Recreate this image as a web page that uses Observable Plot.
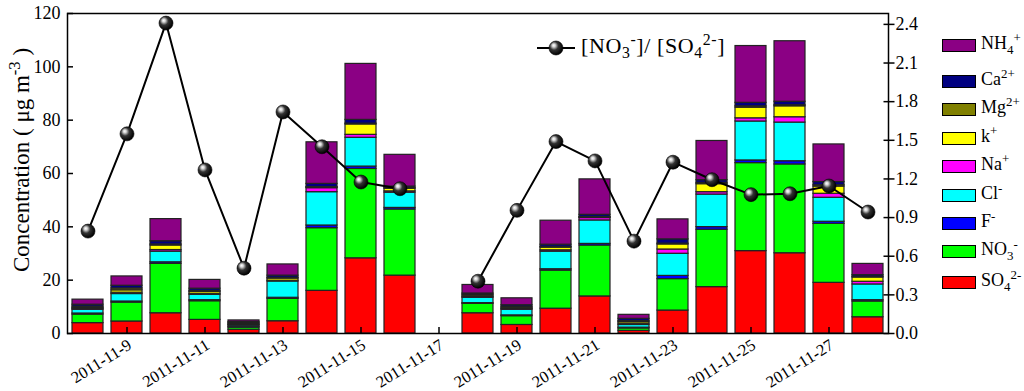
<!DOCTYPE html>
<html><head><meta charset="utf-8">
<script src="https://cdn.jsdelivr.net/npm/d3@7"></script>
<script src="https://cdn.jsdelivr.net/npm/@observablehq/plot@0.6"></script>
<style>
body{margin:0;background:#fff;}
#wrap{position:relative;width:1024px;height:391px;font-family:"Liberation Serif","Times New Roman",serif;color:#000;overflow:hidden;}
#wrap > svg{position:absolute;left:0;top:0;overflow:visible;}
.ylab{position:absolute;left:22px;top:160px;transform:translate(-50%,-50%) rotate(-90deg);white-space:nowrap;font-size:23px;}
.leg{position:absolute;left:942px;height:13px;white-space:nowrap;}
.leg .box{position:absolute;left:0;top:0;width:32px;height:11px;border:1.5px solid #000;}
.leg .lab{position:absolute;left:39px;top:-6px;font-size:18px;line-height:20px;}
sub,sup{font-size:72%;line-height:0;}
.rleg{position:absolute;left:535px;top:33px;white-space:nowrap;font-size:22px;letter-spacing:0.6px;}
.rleg svg{vertical-align:middle;margin-right:4px;}
</style></head><body><div id="wrap"></div>
<script>
const dates = ["2011-11-8","2011-11-9","2011-11-10","2011-11-11","2011-11-12","2011-11-13","2011-11-14","2011-11-15","2011-11-16","2011-11-17","2011-11-18","2011-11-19","2011-11-20","2011-11-21","2011-11-22","2011-11-23","2011-11-24","2011-11-25","2011-11-26","2011-11-27","2011-11-28"];
const xTickLabels = ["2011-11-9","2011-11-11","2011-11-13","2011-11-15","2011-11-17","2011-11-19","2011-11-21","2011-11-23","2011-11-25","2011-11-27"];
const components = ["SO4","NO3","F","Cl","Na","K","Mg","Ca","NH4"];
const colors = ["#ff0000","#00ff00","#0000ff","#00ffff","#ff00ff","#ffff00","#808000","#000080","#8b0084"];
const legendLabels = ["SO<sub>4</sub><sup>2-</sup>","NO<sub>3</sub><sup>-</sup>","F<sup>-</sup>","Cl<sup>-</sup>","Na<sup>+</sup>","k<sup>+</sup>","Mg<sup>2+</sup>","Ca<sup>2+</sup>","NH<sub>4</sub><sup>+</sup>"];
const SO4 = [3.9,4.5,7.6,5.1,1.4,4.6,16.0,28.2,21.7,null,7.6,3.2,9.3,13.9,1.0,8.6,17.4,30.9,30.1,19.0,6.1];
const NO3 = [3.2,7.1,18.5,7.0,0.8,8.4,23.5,33.5,24.8,null,3.5,3.3,14.3,19.1,0.9,11.8,21.5,33.0,33.3,22.1,5.9];
const F   = [0.4,0.4,0.6,0.4,0.3,0.4,1.0,0.9,0.6,null,0.3,0.3,0.5,0.6,0.3,1.2,1.0,1.0,1.2,0.8,0.5];
const Cl  = [1.4,2.8,4.0,2.0,0.5,6.1,12.5,10.8,5.7,null,2.0,2.1,6.6,8.8,1.0,8.3,12.2,14.6,14.5,9.0,5.9];
const Na  = [0.3,0.5,0.6,0.4,0.2,0.3,1.5,1.1,0.5,null,0.3,0.3,0.5,0.9,0.5,1.6,0.9,1.2,2.0,1.5,1.0];
const K   = [0.4,0.9,1.7,0.7,0.3,0.8,0.2,3.9,1.0,null,0.5,0.3,1.0,0.2,0.6,1.9,3.0,4.0,4.1,2.7,1.6];
const Mg  = [0.5,0.7,0.4,0.4,0.4,0.3,0.2,0.3,0.2,null,0.4,0.5,0.3,0.2,0.4,0.3,0.5,0.5,0.4,0.5,0.3];
const Ca  = [0.7,1.0,1.2,0.8,0.4,0.8,1.2,1.4,0.6,null,0.4,0.6,0.8,0.8,0.8,1.6,1.0,1.3,1.3,1.2,0.6];
const NH4 = [1.9,3.5,8.3,3.3,0.6,4.2,15.6,21.0,11.9,null,3.2,2.6,9.0,13.3,1.5,7.5,14.7,21.3,22.7,14.1,4.2];
const ratio = [0.795,1.55,2.41,1.27,0.507,1.72,1.45,1.176,1.124,null,0.406,0.956,1.49,1.34,0.717,1.33,1.194,1.078,1.085,1.145,0.943];
const yTicksLeft = [0,20,40,60,80,100,120];
const yTicksRight = [0,0.3,0.6,0.9,1.2,1.5,1.8,2.1,2.4];

const series = [SO4,NO3,F,Cl,Na,K,Mg,Ca,NH4];
const k = 48.3; // right axis (ratio) -> left axis units
const rows = [];
dates.forEach((d,i)=>components.forEach((c,j)=>{const v=series[j][i]; if(v!=null) rows.push({date:d,comp:c,value:v});}));
const ratioRows = dates.map((d,i)=>({date:d, r: ratio[i]==null?NaN:ratio[i]*k}));

const svg = Plot.plot({
  width:1024, height:391, marginTop:13, marginBottom:58, marginLeft:67, marginRight:136,
  style:{fontFamily:"'Liberation Serif','Times New Roman',serif", fontSize:"17px", color:"#000", background:"transparent", overflow:"visible"},
  x:{type:"band", domain:dates, paddingInner:0.2, paddingOuter:0.1},
  y:{domain:[0,120]},
  color:{domain:components, range:colors},
  marks:[
    Plot.barY(rows,{x:"date", y:"value", fill:"comp", stroke:"#222", strokeWidth:1.2}),
    Plot.line(ratioRows,{x:"date", y:"r", stroke:"#000", strokeWidth:2}),
    Plot.dot(ratioRows,{x:"date", y:"r", r:7, fill:"url(#ball)", stroke:"#000", strokeWidth:0.6}),
    Plot.axisY(yTicksLeft,{anchor:"left", tickSize:0, tickPadding:7, fontSize:18, label:null}),
    Plot.axisY(yTicksLeft,{anchor:"left", tickSize:6, dx:6, text:null, strokeWidth:1.5, label:null}),
    Plot.axisY(yTicksRight.map(v=>v*k),{anchor:"right", tickSize:0, tickPadding:7, fontSize:18, tickFormat:d=>(d/k).toFixed(1), label:null}),
    Plot.axisY(yTicksRight.map(v=>v*k),{anchor:"right", tickSize:11, dx:-5.5, text:null, strokeWidth:1.5, label:null}),
    Plot.text(xTickLabels,{x:d=>d, frameAnchor:"bottom", rotate:-32, textAnchor:"end", lineAnchor:"middle", dx:3, dy:10, fontSize:16.5, fill:"#000"}),
    Plot.axisX(xTickLabels,{anchor:"bottom", tickSize:6, dy:-6, text:null, strokeWidth:1.5, label:null}),
    Plot.frame({stroke:"#000", strokeWidth:1.5})
  ]
});
d3.select(svg).insert("defs",":first-child").html(
  '<radialGradient id="ball" cx="0.4" cy="0.4" r="0.6" fx="0.33" fy="0.3">'+
  '<stop offset="0" stop-color="#fff"/><stop offset="0.18" stop-color="#d8d8d8"/>'+
  '<stop offset="0.5" stop-color="#333"/><stop offset="1" stop-color="#000"/></radialGradient>');
const wrap = document.getElementById("wrap");
wrap.appendChild(svg);

const yl = document.createElement("div");
yl.className = "ylab";
yl.innerHTML = "Concentration ( μg m<sup>-3</sup> )";
wrap.appendChild(yl);

const tops = [276,245,217,189,160,132,103,75,39];
components.forEach((c,j)=>{
  const row = document.createElement("div");
  row.className = "leg";
  row.style.top = tops[j]+"px";
  row.innerHTML = `<div class="box" style="background:${colors[j]}"></div><div class="lab">${legendLabels[j]}</div>`;
  wrap.appendChild(row);
});

const rl = document.createElement("div");
rl.className = "rleg";
rl.innerHTML = '<svg width="42" height="20" viewBox="0 0 42 20"><line x1="2" y1="10" x2="40" y2="10" stroke="#000" stroke-width="2"/><circle cx="21" cy="10" r="7" fill="url(#ball)" stroke="#000" stroke-width="0.6"/></svg>[NO<sub>3</sub><sup>-</sup>]/ [SO<sub>4</sub><sup>2-</sup>]';
wrap.appendChild(rl);
</script></body></html>
